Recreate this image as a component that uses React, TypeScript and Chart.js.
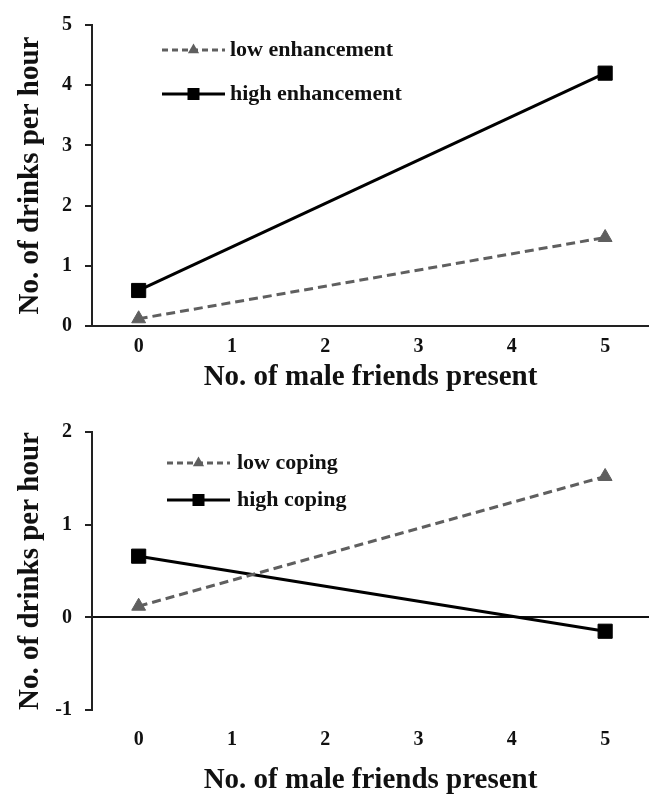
import React, { useEffect, useLayoutEffect, useRef } from 'react';
import { Chart, registerables } from 'chart.js';

Chart.register(...registerables);

// ---------- data ----------
const xPoints = [0, 5];
const xTickValues = [0, 1, 2, 3, 4, 5];
const xTitle = 'No. of male friends present';
const yTitle = 'No. of drinks per hour';

const topSeriesNames = ['low enhancement', 'high enhancement'];
const lowEnhancement = [0.12, 1.47];
const highEnhancement = [0.59, 4.2];
const topYTicks = [0, 1, 2, 3, 4, 5];

const bottomSeriesNames = ['low coping', 'high coping'];
const lowCoping = [0.12, 1.52];
const highCoping = [0.66, -0.15];
const bottomYTicks = [-1, 0, 1, 2];

// ---------- styles ----------
const FONT = "'Liberation Serif', 'Times New Roman', serif";
const GRAY = '#5f5f5f';
const INK = '#111';

type PanelCfg = {
  names: string[];
  low: number[];
  high: number[];
  yTicks: number[];
  height: number;
  padTop: number;
  xAxisHeight: number;
  xTickPad: number;
  titlePadBottom: number;
  zeroLine: boolean;
  legend: { x0: number; x1: number; xText: number; rows: number[] };
};

function makeLegendPlugin(cfg: PanelCfg) {
  return {
    id: 'customLegend',
    afterDraw(chart: any) {
      const { ctx, chartArea } = chart;
      const { x0, x1, xText, rows } = cfg.legend;
      chart.data.datasets.forEach((ds: any, i: number) => {
        const y = chartArea.top + rows[i];
        const xa = chartArea.left + x0;
        const xb = chartArea.left + x1;
        ctx.save();
        ctx.strokeStyle = ds.borderColor;
        ctx.lineWidth = 3;
        ctx.setLineDash(ds.pointStyle === 'triangle' ? [6, 4] : []);
        ctx.beginPath();
        ctx.moveTo(xa, y);
        ctx.lineTo(xb, y);
        ctx.stroke();
        ctx.setLineDash([]);
        const cx = (xa + xb) / 2;
        ctx.fillStyle = ds.pointBackgroundColor;
        if (ds.pointStyle === 'triangle') {
          const r = 6.5;
          ctx.beginPath();
          ctx.moveTo(cx, y - r);
          ctx.lineTo(cx + r * 0.866, y + r * 0.5);
          ctx.lineTo(cx - r * 0.866, y + r * 0.5);
          ctx.closePath();
          ctx.fill();
        } else {
          const s = 12;
          ctx.fillRect(cx - s / 2, y - s / 2, s, s);
        }
        ctx.fillStyle = INK;
        ctx.font = `bold 22px ${FONT}`;
        ctx.textBaseline = 'middle';
        ctx.textAlign = 'left';
        ctx.fillText(ds.label, chartArea.left + xText, y);
        ctx.restore();
      });
    },
  };
}

function buildConfig(cfg: PanelCfg): any {
  const lowData = xPoints.map((x, i) => ({ x, y: cfg.low[i] }));
  const highData = xPoints.map((x, i) => ({ x, y: cfg.high[i] }));
  return {
    type: 'line',
    data: {
      datasets: [
        {
          label: cfg.names[0],
          data: lowData,
          borderColor: GRAY,
          borderWidth: 3,
          borderDash: [9, 5],
          pointStyle: 'triangle',
          pointRadius: 8,
          pointBackgroundColor: GRAY,
          pointBorderColor: GRAY,
          pointBorderWidth: 1,
          fill: false,
          clip: false,
        },
        {
          label: cfg.names[1],
          data: highData,
          borderColor: '#000',
          borderWidth: 3,
          pointStyle: 'rect',
          pointRadius: 10,
          pointBackgroundColor: '#000',
          pointBorderColor: '#000',
          pointBorderWidth: 1,
          fill: false,
          clip: false,
        },
      ],
    },
    options: {
      responsive: false,
      animation: false,
      layout: { autoPadding: false, padding: { top: cfg.padTop, left: 0, right: 0, bottom: 0 } },
      plugins: { legend: { display: false }, tooltip: { enabled: false } },
      scales: {
        x: {
          type: 'linear',
          min: -0.5,
          max: 5.47,
          afterBuildTicks: (s: any) => {
            s.ticks = xTickValues.map((v) => ({ value: v }));
          },
          afterFit: (s: any) => {
            s.height = cfg.xAxisHeight;
            s.paddingLeft = 0;
            s.paddingRight = 0;
          },
          grid: { display: false, drawTicks: false },
          border: { display: !cfg.zeroLine, color: '#222', width: 2 },
          ticks: {
            padding: cfg.xTickPad,
            color: INK,
            autoSkip: false,
            maxRotation: 0,
            font: { family: FONT, size: 20, weight: 'bold' },
          },
          title: {
            display: true,
            text: xTitle,
            color: INK,
            font: { family: FONT, size: 29, weight: 'bold', lineHeight: 1 },
            padding: { top: 0, bottom: cfg.titlePadBottom },
          },
        },
        y: {
          type: 'linear',
          min: cfg.yTicks[0],
          max: cfg.yTicks[cfg.yTicks.length - 1],
          afterBuildTicks: (s: any) => {
            s.ticks = cfg.yTicks.map((v) => ({ value: v }));
          },
          afterFit: (s: any) => {
            s.width = 92;
          },
          grid: {
            display: true,
            drawOnChartArea: cfg.zeroLine,
            drawTicks: true,
            tickLength: 7,
            lineWidth: 2,
            tickColor: '#222',
            color: (ctx: any) =>
              cfg.zeroLine && ctx.tick && ctx.tick.value === 0 ? INK : 'rgba(0,0,0,0)',
          },
          border: { display: true, color: '#222', width: 2 },
          ticks: {
            padding: 13,
            color: INK,
            font: { family: FONT, size: 20, weight: 'bold' },
          },
          title: {
            display: true,
            text: yTitle,
            color: INK,
            font: { family: FONT, size: 29, weight: 'bold', lineHeight: 1 },
            padding: { top: 16, bottom: 0 },
          },
        },
      },
    },
    plugins: [makeLegendPlugin(cfg)],
  };
}

function Panel({ cfg }: { cfg: PanelCfg }) {
  const ref = useRef<HTMLCanvasElement | null>(null);
  useEffect(() => {
    if (!ref.current) return;
    const chart = new Chart(ref.current, buildConfig(cfg));
    return () => chart.destroy();
  }, [cfg]);
  return (
    <canvas
      ref={ref}
      width={649}
      height={cfg.height}
      style={{ display: 'block', width: 649, height: cfg.height }}
    />
  );
}

const topCfg: PanelCfg = {
  names: topSeriesNames,
  low: lowEnhancement,
  high: highEnhancement,
  yTicks: topYTicks,
  height: 395,
  padTop: 17,
  xAxisHeight: 69,
  xTickPad: 9,
  titlePadBottom: 3,
  zeroLine: false,
  legend: { x0: 70, x1: 133, xText: 138, rows: [25, 69] },
};

const bottomCfg: PanelCfg = {
  names: bottomSeriesNames,
  low: lowCoping,
  high: highCoping,
  yTicks: bottomYTicks,
  height: 400,
  padTop: 37,
  xAxisHeight: 85,
  xTickPad: 18,
  titlePadBottom: 0,
  zeroLine: true,
  legend: { x0: 75, x1: 138, xText: 145, rows: [31, 68] },
};

export default function App() {
  useLayoutEffect(() => {
    document.body.style.margin = '0';
    document.body.style.background = '#fff';
  }, []);
  return (
    <div style={{ width: 649, height: 795, background: '#fff', overflow: 'hidden' }}>
      <Panel cfg={topCfg} />
      <Panel cfg={bottomCfg} />
    </div>
  );
}
